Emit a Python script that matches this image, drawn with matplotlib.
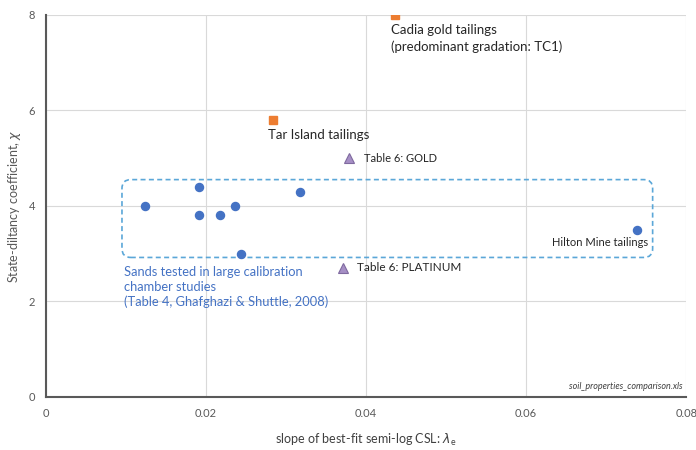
import matplotlib
matplotlib.use("Agg")
import matplotlib.pyplot as plt
from matplotlib.patches import FancyBboxPatch

plt.rcParams['font.family'] = ['Lato', 'DejaVu Sans']

# sands from calibration chamber studies
sand_lam = [0.0124, 0.0191, 0.0191, 0.0218, 0.0236, 0.0318, 0.0244, 0.0739]
sand_chi = [4.0, 4.4, 3.8, 3.8, 4.0, 4.3, 3.0, 3.5]
# tailings
tail_lam = [0.0284, 0.0436]
tail_chi = [5.8, 8.0]
tail_names = ["Tar Island tailings", "Cadia gold tailings\n(predominant gradation: TC1)"]
# table 6
t6_lam = [0.0379, 0.0371]
t6_chi = [5.0, 2.7]
t6_names = ["Table 6: GOLD", "Table 6: PLATINUM"]

fig = plt.figure(figsize=(6.96, 4.5), dpi=100)
ax = fig.add_axes([0.066, 0.118, 0.920, 0.849])

ax.grid(True, color='#d9d9d9', lw=0.8)
ax.set_axisbelow(True)

ax.plot(sand_lam, sand_chi, 'o', color='#4472C4', ms=5.8, zorder=3)
ax.plot(tail_lam, tail_chi, 's', color='#ED7D31', ms=6, zorder=3)
ax.plot(t6_lam, t6_chi, '^', color='#A68FC5', mec='#7F6A9F', mew=0.8, ms=7, zorder=3)

# dashed rounded box round the sands (aspect = data units per pixel, y over x)
asp = (8 / 382) / (0.08 / 640)
box = FancyBboxPatch((0.0095, 2.92), 0.0758 - 0.0095, 4.55 - 2.92,
                     boxstyle="round,pad=0,rounding_size=0.0011",
                     mutation_aspect=asp,
                     fill=False, ec='#5BA7D8', ls=(0, (3, 2)), lw=1.2, zorder=2)
ax.add_patch(box)

ax.text(tail_lam[0] - 0.0006, tail_chi[0] - 0.18, tail_names[0], fontsize=9.5,
        color='#262626', va='top', ha='left')
ax.text(tail_lam[1] - 0.0005, tail_chi[1] - 0.2, tail_names[1], fontsize=9.5,
        color='#262626', va='top', ha='left', linespacing=1.35)
ax.text(t6_lam[0] + 0.0019, t6_chi[0], t6_names[0], fontsize=8, color='#262626', va='center')
ax.text(t6_lam[1] + 0.0018, t6_chi[1], t6_names[1], fontsize=8.5, color='#262626', va='center')
ax.text(0.0752, 3.12, "Hilton Mine tailings", fontsize=8, color='#262626', ha='right', va='bottom')
ax.text(0.0098, 2.75, "Sands tested in large calibration\nchamber studies\n(Table 4, Ghafghazi & Shuttle, 2008)",
        fontsize=9.3, color='#4472C4', va='top', ha='left', linespacing=1.3)
ax.text(0.0795, 0.12, "soil_properties_comparison.xls", fontsize=6.5, style='italic',
        color='#404040', ha='right', va='bottom')

ax.set_xlim(0, 0.08)
ax.set_ylim(0, 8)
ax.set_xticks([0, 0.02, 0.04, 0.06, 0.08])
ax.set_xticklabels(['0', '0.02', '0.04', '0.06', '0.08'])
ax.set_yticks([0, 2, 4, 6, 8])
ax.tick_params(length=0, labelsize=8, colors='#595959', pad=8)
for s in ['top', 'right']:
    ax.spines[s].set_visible(False)
ax.spines['left'].set_color('#595959')
ax.spines['left'].set_linewidth(1.5)
ax.spines['bottom'].set_color('#595959')
ax.spines['bottom'].set_linewidth(1.5)

ax.set_xlabel(r"slope of best-fit semi-log CSL: $\lambda_\mathregular{e}$", fontsize=9,
              color='#404040', labelpad=9)
ax.set_ylabel(r"State-diltancy coefficient, $\chi$", fontsize=9, color='#595959', labelpad=4)

fig.savefig("out.png", dpi=100)
